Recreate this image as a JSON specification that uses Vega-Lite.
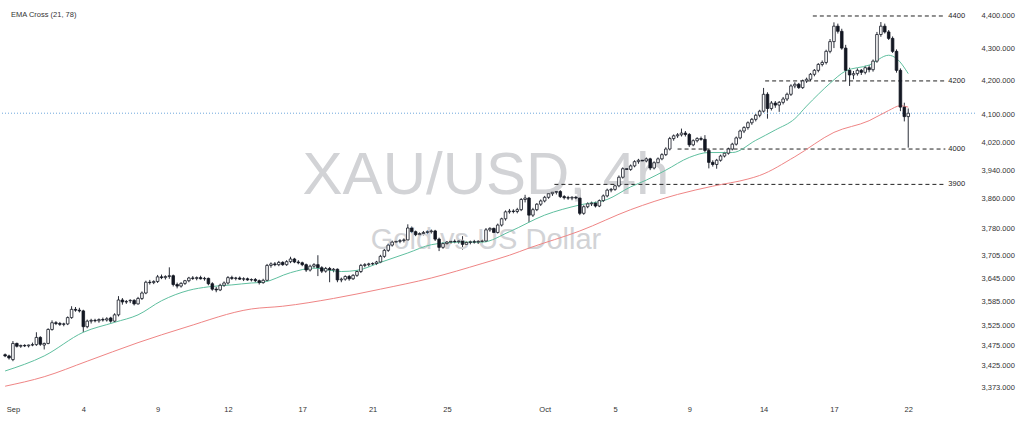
{
 "$schema": "https://vega.github.io/schema/vega-lite/v6.json",
 "width": 975,
 "height": 398,
 "autosize": {"type": "none"},
 "padding": {"left": 0, "top": 0, "right": 49, "bottom": 24},
 "background": "white",
 "config": {
  "view": {"stroke": null},
  "font": "Liberation Sans",
  "axis": {"labelFont": "Liberation Sans", "labelFontSize": 7.5, "labelColor": "#333333", "ticks": false, "domain": false, "grid": false, "labelOverlap": false, "labelFlush": false}
 },
 "datasets": {
  "candles": [
   {"i":-2,"o":3452,"h":3455,"l":3446,"c":3449},{"i":-1,"o":3449,"h":3452,"l":3440,"c":3444},
   {"i":0,"o":3440,"h":3486,"l":3436,"c":3480},{"i":1,"o":3480,"h":3482,"l":3470,"c":3473},
   {"i":2,"o":3473,"h":3477,"l":3469,"c":3475},{"i":3,"o":3475,"h":3478,"l":3471,"c":3474},
   {"i":4,"o":3474,"h":3477,"l":3470,"c":3476},{"i":5,"o":3476,"h":3482,"l":3473,"c":3477},
   {"i":6,"o":3477,"h":3508,"l":3474,"c":3495},{"i":7,"o":3495,"h":3498,"l":3474,"c":3478},
   {"i":8,"o":3476,"h":3482,"l":3465,"c":3480},{"i":9,"o":3480,"h":3518,"l":3478,"c":3515},
   {"i":10,"o":3515,"h":3538,"l":3512,"c":3532},{"i":11,"o":3532,"h":3536,"l":3526,"c":3530},
   {"i":12,"o":3530,"h":3534,"l":3524,"c":3528},{"i":13,"o":3528,"h":3532,"l":3523,"c":3529},
   {"i":14,"o":3529,"h":3548,"l":3526,"c":3545},{"i":15,"o":3545,"h":3574,"l":3542,"c":3566},
   {"i":16,"o":3566,"h":3572,"l":3560,"c":3564},{"i":17,"o":3564,"h":3570,"l":3558,"c":3562},
   {"i":18,"o":3562,"h":3565,"l":3508,"c":3522},{"i":19,"o":3522,"h":3540,"l":3518,"c":3536},
   {"i":20,"o":3536,"h":3542,"l":3530,"c":3538},{"i":21,"o":3538,"h":3542,"l":3533,"c":3537},
   {"i":22,"o":3537,"h":3543,"l":3532,"c":3540},{"i":23,"o":3540,"h":3545,"l":3535,"c":3539},
   {"i":24,"o":3539,"h":3546,"l":3535,"c":3542},{"i":25,"o":3544,"h":3547,"l":3532,"c":3536},
   {"i":26,"o":3536,"h":3556,"l":3533,"c":3552},{"i":27,"o":3552,"h":3600,"l":3548,"c":3590},
   {"i":28,"o":3590,"h":3595,"l":3578,"c":3585},{"i":29,"o":3585,"h":3590,"l":3580,"c":3586},
   {"i":30,"o":3588,"h":3592,"l":3582,"c":3589},{"i":31,"o":3589,"h":3592,"l":3576,"c":3580},
   {"i":32,"o":3580,"h":3598,"l":3578,"c":3594},{"i":33,"o":3594,"h":3612,"l":3590,"c":3608},
   {"i":34,"o":3608,"h":3640,"l":3605,"c":3636},{"i":35,"o":3636,"h":3642,"l":3630,"c":3635},
   {"i":36,"o":3635,"h":3641,"l":3631,"c":3638},{"i":37,"o":3638,"h":3655,"l":3634,"c":3650},
   {"i":38,"o":3650,"h":3656,"l":3644,"c":3648},{"i":39,"o":3648,"h":3654,"l":3643,"c":3651},
   {"i":40,"o":3651,"h":3675,"l":3645,"c":3653},{"i":41,"o":3653,"h":3656,"l":3625,"c":3630},
   {"i":42,"o":3630,"h":3635,"l":3620,"c":3626},{"i":43,"o":3626,"h":3636,"l":3622,"c":3633},
   {"i":44,"o":3633,"h":3642,"l":3629,"c":3640},{"i":45,"o":3640,"h":3650,"l":3636,"c":3647},
   {"i":46,"o":3647,"h":3652,"l":3642,"c":3646},{"i":47,"o":3646,"h":3651,"l":3641,"c":3648},
   {"i":48,"o":3648,"h":3653,"l":3643,"c":3645},{"i":49,"o":3645,"h":3650,"l":3640,"c":3646},
   {"i":50,"o":3646,"h":3648,"l":3628,"c":3632},{"i":51,"o":3632,"h":3636,"l":3614,"c":3618},
   {"i":52,"o":3618,"h":3624,"l":3610,"c":3616},{"i":53,"o":3616,"h":3632,"l":3613,"c":3628},
   {"i":54,"o":3628,"h":3638,"l":3624,"c":3634},{"i":55,"o":3634,"h":3652,"l":3630,"c":3648},
   {"i":56,"o":3648,"h":3653,"l":3642,"c":3646},{"i":57,"o":3646,"h":3650,"l":3641,"c":3647},
   {"i":58,"o":3647,"h":3651,"l":3642,"c":3644},{"i":59,"o":3644,"h":3649,"l":3639,"c":3645},
   {"i":60,"o":3645,"h":3648,"l":3640,"c":3642},{"i":61,"o":3642,"h":3646,"l":3638,"c":3643},
   {"i":62,"o":3643,"h":3647,"l":3636,"c":3640},{"i":63,"o":3640,"h":3643,"l":3630,"c":3635},
   {"i":64,"o":3635,"h":3645,"l":3632,"c":3641},{"i":65,"o":3641,"h":3684,"l":3638,"c":3680},
   {"i":66,"o":3680,"h":3688,"l":3674,"c":3684},{"i":67,"o":3684,"h":3689,"l":3678,"c":3682},
   {"i":68,"o":3682,"h":3692,"l":3678,"c":3688},{"i":69,"o":3688,"h":3691,"l":3679,"c":3682},
   {"i":70,"o":3682,"h":3694,"l":3679,"c":3690},{"i":71,"o":3690,"h":3703,"l":3686,"c":3697},
   {"i":72,"o":3697,"h":3700,"l":3686,"c":3689},{"i":73,"o":3689,"h":3694,"l":3683,"c":3687},
   {"i":74,"o":3687,"h":3690,"l":3678,"c":3682},{"i":75,"o":3682,"h":3685,"l":3663,"c":3668},
   {"i":76,"o":3668,"h":3682,"l":3664,"c":3678},{"i":77,"o":3678,"h":3686,"l":3672,"c":3682},
   {"i":78,"o":3682,"h":3707,"l":3652,"c":3674},{"i":79,"o":3674,"h":3678,"l":3660,"c":3665},
   {"i":80,"o":3665,"h":3676,"l":3661,"c":3672},{"i":81,"o":3672,"h":3676,"l":3636,"c":3668},
   {"i":82,"o":3668,"h":3673,"l":3662,"c":3670},{"i":83,"o":3670,"h":3672,"l":3636,"c":3642},
   {"i":84,"o":3642,"h":3648,"l":3636,"c":3644},{"i":85,"o":3644,"h":3654,"l":3640,"c":3651},
   {"i":86,"o":3651,"h":3655,"l":3640,"c":3645},{"i":87,"o":3645,"h":3657,"l":3642,"c":3654},
   {"i":88,"o":3654,"h":3668,"l":3650,"c":3664},{"i":89,"o":3664,"h":3684,"l":3660,"c":3680},
   {"i":90,"o":3680,"h":3686,"l":3675,"c":3682},{"i":91,"o":3682,"h":3687,"l":3677,"c":3684},
   {"i":92,"o":3684,"h":3688,"l":3679,"c":3685},{"i":93,"o":3685,"h":3692,"l":3681,"c":3689},
   {"i":94,"o":3689,"h":3708,"l":3686,"c":3704},{"i":95,"o":3704,"h":3724,"l":3700,"c":3720},
   {"i":96,"o":3720,"h":3738,"l":3716,"c":3734},{"i":97,"o":3734,"h":3746,"l":3730,"c":3742},
   {"i":98,"o":3742,"h":3748,"l":3737,"c":3744},{"i":99,"o":3744,"h":3750,"l":3739,"c":3746},
   {"i":100,"o":3746,"h":3752,"l":3741,"c":3748},{"i":101,"o":3748,"h":3790,"l":3745,"c":3780},
   {"i":102,"o":3780,"h":3784,"l":3766,"c":3770},{"i":103,"o":3770,"h":3773,"l":3758,"c":3762},
   {"i":104,"o":3762,"h":3768,"l":3755,"c":3765},{"i":105,"o":3765,"h":3772,"l":3760,"c":3768},
   {"i":106,"o":3768,"h":3774,"l":3763,"c":3770},{"i":107,"o":3770,"h":3776,"l":3765,"c":3772},
   {"i":108,"o":3772,"h":3775,"l":3745,"c":3750},{"i":109,"o":3750,"h":3754,"l":3718,"c":3728},
   {"i":110,"o":3728,"h":3742,"l":3724,"c":3738},{"i":111,"o":3738,"h":3745,"l":3733,"c":3742},
   {"i":112,"o":3742,"h":3747,"l":3737,"c":3744},{"i":113,"o":3744,"h":3749,"l":3739,"c":3743},
   {"i":114,"o":3743,"h":3748,"l":3738,"c":3745},{"i":115,"o":3745,"h":3758,"l":3722,"c":3736},
   {"i":116,"o":3736,"h":3745,"l":3732,"c":3741},{"i":117,"o":3741,"h":3746,"l":3736,"c":3743},
   {"i":118,"o":3743,"h":3748,"l":3738,"c":3742},{"i":119,"o":3742,"h":3747,"l":3737,"c":3744},
   {"i":120,"o":3744,"h":3749,"l":3739,"c":3745},{"i":121,"o":3745,"h":3780,"l":3742,"c":3775},
   {"i":122,"o":3775,"h":3782,"l":3770,"c":3779},{"i":123,"o":3779,"h":3781,"l":3766,"c":3768},
   {"i":124,"o":3768,"h":3792,"l":3765,"c":3788},{"i":125,"o":3788,"h":3808,"l":3784,"c":3805},
   {"i":126,"o":3805,"h":3828,"l":3800,"c":3824},{"i":127,"o":3824,"h":3832,"l":3819,"c":3826},
   {"i":128,"o":3826,"h":3831,"l":3820,"c":3825},{"i":129,"o":3825,"h":3835,"l":3820,"c":3830},
   {"i":130,"o":3830,"h":3862,"l":3826,"c":3858},{"i":131,"o":3858,"h":3871,"l":3850,"c":3862},
   {"i":132,"o":3862,"h":3865,"l":3796,"c":3815},{"i":133,"o":3815,"h":3835,"l":3810,"c":3830},
   {"i":134,"o":3830,"h":3848,"l":3826,"c":3845},{"i":135,"o":3845,"h":3858,"l":3840,"c":3854},
   {"i":136,"o":3854,"h":3868,"l":3850,"c":3864},{"i":137,"o":3864,"h":3878,"l":3860,"c":3874},
   {"i":138,"o":3874,"h":3882,"l":3868,"c":3878},{"i":139,"o":3878,"h":3895,"l":3872,"c":3880},
   {"i":140,"o":3880,"h":3884,"l":3862,"c":3866},{"i":141,"o":3866,"h":3870,"l":3858,"c":3863},
   {"i":142,"o":3863,"h":3868,"l":3857,"c":3862},{"i":143,"o":3862,"h":3867,"l":3856,"c":3864},
   {"i":144,"o":3864,"h":3868,"l":3858,"c":3862},{"i":145,"o":3862,"h":3886,"l":3815,"c":3820},
   {"i":146,"o":3820,"h":3842,"l":3816,"c":3838},{"i":147,"o":3838,"h":3850,"l":3834,"c":3846},
   {"i":148,"o":3846,"h":3852,"l":3840,"c":3848},{"i":149,"o":3848,"h":3852,"l":3836,"c":3840},
   {"i":150,"o":3840,"h":3858,"l":3837,"c":3855},{"i":151,"o":3855,"h":3872,"l":3851,"c":3868},
   {"i":152,"o":3868,"h":3888,"l":3864,"c":3884},{"i":153,"o":3884,"h":3890,"l":3878,"c":3886},
   {"i":154,"o":3886,"h":3900,"l":3882,"c":3896},{"i":155,"o":3896,"h":3925,"l":3892,"c":3920},
   {"i":156,"o":3920,"h":3948,"l":3916,"c":3944},{"i":157,"o":3944,"h":3950,"l":3938,"c":3942},
   {"i":158,"o":3942,"h":3956,"l":3938,"c":3952},{"i":159,"o":3952,"h":3968,"l":3948,"c":3964},
   {"i":160,"o":3964,"h":3972,"l":3958,"c":3968},{"i":161,"o":3968,"h":3974,"l":3962,"c":3966},
   {"i":162,"o":3966,"h":3976,"l":3962,"c":3972},{"i":163,"o":3972,"h":3975,"l":3940,"c":3946},
   {"i":164,"o":3946,"h":3965,"l":3942,"c":3961},{"i":165,"o":3961,"h":3976,"l":3957,"c":3972},
   {"i":166,"o":3972,"h":3988,"l":3968,"c":3984},{"i":167,"o":3984,"h":4005,"l":3980,"c":4000},
   {"i":168,"o":4000,"h":4035,"l":3996,"c":4030},{"i":169,"o":4030,"h":4042,"l":4024,"c":4038},
   {"i":170,"o":4038,"h":4046,"l":4032,"c":4041},{"i":171,"o":4041,"h":4059,"l":4036,"c":4046},
   {"i":172,"o":4046,"h":4052,"l":4036,"c":4042},{"i":173,"o":4042,"h":4046,"l":4006,"c":4012},
   {"i":174,"o":4012,"h":4028,"l":4008,"c":4024},{"i":175,"o":4024,"h":4034,"l":4019,"c":4030},
   {"i":176,"o":4030,"h":4036,"l":4024,"c":4028},{"i":177,"o":4028,"h":4040,"l":3990,"c":3996},
   {"i":178,"o":3996,"h":4000,"l":3945,"c":3962},{"i":179,"o":3962,"h":3968,"l":3950,"c":3956},
   {"i":180,"o":3956,"h":3972,"l":3944,"c":3968},{"i":181,"o":3968,"h":3984,"l":3964,"c":3980},
   {"i":182,"o":3980,"h":3992,"l":3976,"c":3988},{"i":183,"o":3988,"h":4004,"l":3984,"c":4000},
   {"i":184,"o":4000,"h":4018,"l":3996,"c":4014},{"i":185,"o":4014,"h":4036,"l":4010,"c":4032},
   {"i":186,"o":4032,"h":4056,"l":4028,"c":4052},{"i":187,"o":4052,"h":4066,"l":4046,"c":4062},
   {"i":188,"o":4062,"h":4080,"l":4056,"c":4076},{"i":189,"o":4076,"h":4090,"l":4070,"c":4086},
   {"i":190,"o":4086,"h":4102,"l":4080,"c":4098},{"i":191,"o":4098,"h":4114,"l":4092,"c":4110},
   {"i":192,"o":4110,"h":4179,"l":4106,"c":4160},{"i":193,"o":4160,"h":4166,"l":4088,"c":4118},
   {"i":194,"o":4118,"h":4140,"l":4112,"c":4134},{"i":195,"o":4134,"h":4140,"l":4120,"c":4128},
   {"i":196,"o":4128,"h":4140,"l":4108,"c":4136},{"i":197,"o":4136,"h":4152,"l":4130,"c":4146},
   {"i":198,"o":4146,"h":4165,"l":4140,"c":4160},{"i":199,"o":4160,"h":4190,"l":4155,"c":4185},
   {"i":200,"o":4185,"h":4196,"l":4178,"c":4190},{"i":201,"o":4190,"h":4194,"l":4176,"c":4180},
   {"i":202,"o":4180,"h":4204,"l":4176,"c":4200},{"i":203,"o":4200,"h":4210,"l":4194,"c":4205},
   {"i":204,"o":4205,"h":4224,"l":4200,"c":4220},{"i":205,"o":4220,"h":4236,"l":4214,"c":4232},
   {"i":206,"o":4232,"h":4254,"l":4226,"c":4250},{"i":207,"o":4250,"h":4262,"l":4244,"c":4256},
   {"i":208,"o":4256,"h":4295,"l":4250,"c":4290},{"i":209,"o":4290,"h":4328,"l":4284,"c":4320},
   {"i":210,"o":4320,"h":4380,"l":4300,"c":4368},{"i":211,"o":4368,"h":4376,"l":4345,"c":4352},
   {"i":212,"o":4352,"h":4360,"l":4295,"c":4300},{"i":213,"o":4300,"h":4310,"l":4200,"c":4232},
   {"i":214,"o":4232,"h":4240,"l":4185,"c":4218},{"i":215,"o":4218,"h":4230,"l":4205,"c":4222},
   {"i":216,"o":4222,"h":4238,"l":4216,"c":4232},{"i":217,"o":4232,"h":4236,"l":4218,"c":4226},
   {"i":218,"o":4226,"h":4246,"l":4220,"c":4240},{"i":219,"o":4240,"h":4248,"l":4226,"c":4234},
   {"i":220,"o":4234,"h":4265,"l":4228,"c":4260},{"i":221,"o":4260,"h":4350,"l":4255,"c":4342},
   {"i":222,"o":4342,"h":4381,"l":4335,"c":4368},{"i":223,"o":4368,"h":4376,"l":4345,"c":4350},
   {"i":224,"o":4350,"h":4356,"l":4325,"c":4330},{"i":225,"o":4330,"h":4336,"l":4285,"c":4290},
   {"i":226,"o":4290,"h":4296,"l":4225,"c":4232},{"i":227,"o":4232,"h":4238,"l":4110,"c":4122},
   {"i":228,"o":4122,"h":4135,"l":4080,"c":4094},{"i":229,"o":4094,"h":4118,"l":4004,"c":4104}
  ],
  "ema21": [
   {"i":-2,"v":3412},{"i":8,"v":3449},{"i":18,"v":3508},{"i":26,"v":3533},{"i":32,"v":3552},
   {"i":38,"v":3588},{"i":45,"v":3615},{"i":50,"v":3624},{"i":56,"v":3629},{"i":61,"v":3634},
   {"i":64,"v":3636},{"i":71,"v":3661},{"i":77,"v":3673},{"i":84,"v":3664},{"i":88,"v":3667},
   {"i":94,"v":3688},{"i":101,"v":3713},{"i":107,"v":3735},{"i":114,"v":3742},{"i":120,"v":3742},
   {"i":127,"v":3770},{"i":136,"v":3815},{"i":145,"v":3843},{"i":152,"v":3858},{"i":158,"v":3893},
   {"i":162,"v":3912},{"i":167,"v":3940},{"i":173,"v":3976},{"i":178,"v":3990},{"i":184,"v":3990},
   {"i":190,"v":4025},{"i":195,"v":4055},{"i":200,"v":4088},{"i":203,"v":4125},{"i":206,"v":4160},
   {"i":209,"v":4193},{"i":213,"v":4230},{"i":219,"v":4248},{"i":224,"v":4278},{"i":226,"v":4268},
   {"i":229,"v":4222}
  ],
  "ema78": [
   {"i":-2,"v":3375},{"i":8,"v":3398},{"i":19,"v":3436},{"i":32,"v":3482},{"i":44,"v":3520},
   {"i":61,"v":3567},{"i":69,"v":3574},{"i":82,"v":3594},{"i":94,"v":3618},{"i":107,"v":3647},
   {"i":120,"v":3685},{"i":127,"v":3707},{"i":132,"v":3726},{"i":145,"v":3772},{"i":158,"v":3830},
   {"i":170,"v":3872},{"i":179,"v":3895},{"i":188,"v":3915},{"i":191,"v":3925},{"i":200,"v":3978},
   {"i":210,"v":4048},{"i":219,"v":4082},{"i":224,"v":4112},{"i":227,"v":4126},{"i":229,"v":4122}
  ],
  "levels": [
   {"p":4400,"from":204.6,"to":238.5,"label":"4400"},
   {"p":4200,"from":192.4,"to":238.5,"label":"4200"},
   {"p":4000,"from":170,"to":238.5,"label":"4000"},
   {"p":3900,"from":138.5,"to":238.5,"label":"3900"}
  ]
 },
 "layer": [
  {
   "data": {"name": "candles"},
   "mark": {"type": "rule", "color": "#131722", "strokeWidth": 0.9},
   "encoding": {
    "x": {"field": "i", "type": "quantitative", "scale": {"domain": [-2.03, 244.8], "nice": false, "zero": false}, "title": null,
      "axis": {"orient": "bottom", "values": [0, 18, 37, 55, 74, 92, 111, 136, 154, 173, 192, 210, 229], "labelExpr": "['Sep','4','9','12','17','21','25','Oct','5','9','14','17','22'][indexof([0,18,37,55,74,92,111,136,154,173,192,210,229], datum.value)]", "labelPadding": 7, "labelAlign": "center", "title": null}},
    "y": {"field": "l", "type": "quantitative", "scale": {"type": "log", "domain": [3346.6, 4450.7], "nice": false}, "title": null,
      "axis": {"orient": "right", "values": [3373, 3425, 3475, 3525, 3585, 3645, 3705, 3780, 3860, 3940, 4020, 4100, 4200, 4300, 4400], "format": ",.3f", "labelPadding": 6, "title": null}},
    "y2": {"field": "h"}
   }
  },
  {
   "data": {"values": [{"t": "XAU/USD, 4h"}]},
   "mark": {"type": "text", "fontSize": 60, "fill": "#d2d3d6", "align": "center", "baseline": "alphabetic", "font": "Liberation Sans"},
   "encoding": {
    "x": {"datum": 121, "type": "quantitative", "title": null},
    "y": {"datum": 3873, "type": "quantitative", "title": null},
    "text": {"field": "t"}
   }
  },
  {
   "data": {"values": [{"t": "Gold vs US Dollar"}]},
   "mark": {"type": "text", "fontSize": 29, "fill": "#d2d3d6", "align": "center", "baseline": "alphabetic", "font": "Liberation Sans"},
   "encoding": {
    "x": {"datum": 121, "type": "quantitative", "title": null},
    "y": {"datum": 3724, "type": "quantitative", "title": null},
    "text": {"field": "t"}
   }
  },
  {
   "data": {"name": "levels"},
   "mark": {"type": "rule", "color": "#222222", "strokeWidth": 1, "strokeDash": [4, 3]},
   "encoding": {
    "x": {"field": "from", "type": "quantitative", "title": null},
    "x2": {"field": "to"},
    "y": {"field": "p", "type": "quantitative", "title": null}
   }
  },
  {
   "data": {"name": "levels"},
   "mark": {"type": "text", "fontSize": 7.5, "fill": "#222222", "align": "left", "baseline": "middle", "dx": 3},
   "encoding": {
    "x": {"field": "to", "type": "quantitative", "title": null},
    "y": {"field": "p", "type": "quantitative", "title": null},
    "text": {"field": "label"}
   }
  },
  {
   "data": {"values": [{"p": 4104}]},
   "mark": {"type": "rule", "color": "#6fa8dc", "strokeWidth": 1, "strokeDash": [1, 2]},
   "encoding": {
    "y": {"field": "p", "type": "quantitative", "title": null}
   }
  },
  {
   "data": {"name": "ema78"},
   "mark": {"type": "line", "color": "#ef8585", "strokeWidth": 1, "interpolate": "monotone"},
   "encoding": {
    "x": {"field": "i", "type": "quantitative", "title": null},
    "y": {"field": "v", "type": "quantitative", "title": null}
   }
  },
  {
   "data": {"name": "ema21"},
   "mark": {"type": "line", "color": "#5fbf9f", "strokeWidth": 1, "interpolate": "monotone"},
   "encoding": {
    "x": {"field": "i", "type": "quantitative", "title": null},
    "y": {"field": "v", "type": "quantitative", "title": null}
   }
  },
  {
   "data": {"name": "candles"},
   "mark": {"type": "bar", "size": 2.6, "stroke": "#131722", "strokeWidth": 0.8},
   "encoding": {
    "x": {"field": "i", "type": "quantitative", "title": null},
    "y": {"field": "o", "type": "quantitative", "title": null},
    "y2": {"field": "c"},
    "fill": {"condition": {"test": "datum.c >= datum.o", "value": "#ffffff"}, "value": "#131722"}
   }
  },
  {
   "data": {"values": [{"t": "EMA Cross (21, 78)"}]},
   "mark": {"type": "text", "fontSize": 7.5, "fill": "#333333", "align": "left", "baseline": "middle"},
   "encoding": {
    "x": {"datum": -0.5, "type": "quantitative", "title": null},
    "y": {"datum": 4403, "type": "quantitative", "title": null},
    "text": {"field": "t"}
   }
  }
 ]
}
